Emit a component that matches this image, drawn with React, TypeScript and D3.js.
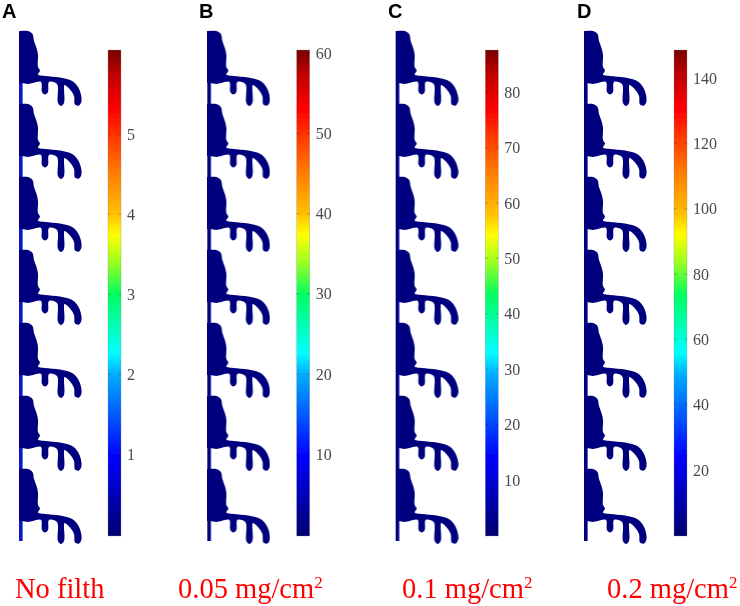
import React, { useRef, useEffect } from 'react';
import * as d3 from 'd3';

const panelLetters = ['A', 'B', 'C', 'D'];
const captions = ['No filth', '0.05 mg/cm', '0.1 mg/cm', '0.2 mg/cm'];
const captionSup = ['', '2', '2', '2'];

const ticksA = [1, 2, 3, 4, 5];
const ticksB = [10, 20, 30, 40, 50, 60];
const ticksC = [10, 20, 30, 40, 50, 60, 70, 80];
const ticksD = [20, 40, 60, 80, 100, 120, 140];
const panelTicks = [ticksA, ticksB, ticksC, ticksD];

// colorbar ends
const barMin = [-0.02, -0.2, -0.1, -0.2];
const barMax = [6.05, 60.4, 87.6, 148.6];

// jet-like colormap, from the bottom of the bar to the top
const colorOffsets = [0, 0.163, 0.24, 0.335, 0.377, 0.496, 0.565, 0.62, 0.663, 0.743, 0.83, 0.877, 0.95, 1];
const colorValues = ['#00006e', '#0000ff', '#0050ff', '#00b0ff', '#00ffff', '#00ff60', '#a0ff20', '#ffff00', '#ffc000', '#ff8000', '#ff3000', '#ff0000', '#c00000', '#780000'];

// insulator shed outline, one unit, in px from the top left of the unit
// the doubled points keep the corners on the rod sharp
const shedOutline: [number, number][] = [
  [0, 0], [0, 0], [9, 0], [13.5, 3], [15, 10], [17.5, 17], [19, 24], [19, 36], [21, 39.5], [19, 43.5],
  [26, 45], [41, 46.5], [54, 50.5], [60.5, 59], [62.5, 70], [60, 74.5], [56, 73.5], [55, 65], [51, 58.5],
  [45.5, 54], [45, 56], [45, 72], [42, 75], [39, 72], [38, 53], [30, 51], [29, 61], [26, 63.5],
  [23, 61], [22, 51], [14, 52], [9, 53], [3, 52], [0, 52], [0, 52]
];
const shedCount = d3.range(7);

const App: React.FC = () => {
  const svgRef = useRef<SVGSVGElement | null>(null);

  useEffect(() => {
    const svg = d3.select(svgRef.current);
    svg.selectAll('*').remove();
    const width = 740;
    const height = 606;
    const barTop = 50;
    const barBottom = 536;
    const barWidth = 13;
    const shedTop = 31;
    const shedPitch = 73;
    const shedBottom = 541;
    const shedColor = '#05057e';

    svg.attr('width', width).attr('height', height)
      .style('position', 'absolute').style('left', 0).style('top', 0)
      .style('background', '#fff');

    const defs = svg.append('defs');
    const grad = defs.append('linearGradient')
      .attr('id', 'jet').attr('x1', 0).attr('x2', 0).attr('y1', 1).attr('y2', 0);
    grad.selectAll('stop').data(colorOffsets).enter().append('stop')
      .attr('offset', d => d)
      .attr('stop-color', (d, i) => colorValues[i]);
    defs.append('filter').attr('id', 'soft')
      .append('feGaussianBlur').attr('stdDeviation', 0.5);

    const panelX = d3.scaleLinear().domain([0, 3]).range([19, 584]);
    const barX = d3.scaleLinear().domain([0, 3]).range([108, 674]);
    const letterX = [2, 199, 388, 577];
    const captionX = [15, 178, 402, 607];

    const outline = d3.line().curve(d3.curveCatmullRomClosed.alpha(0.5));

    panelLetters.forEach((letter, p) => {
      const g = svg.append('g');

      // insulator string
      const string = g.append('g')
        .attr('transform', `translate(${panelX(p)},0)`)
        .attr('filter', 'url(#soft)');
      string.append('rect')
        .attr('x', 0).attr('y', shedTop)
        .attr('width', 3.6).attr('height', shedBottom - shedTop)
        .attr('fill', p === 0 ? '#0a18c8' : shedColor);
      string.selectAll('path').data(shedCount).enter().append('path')
        .attr('transform', d => `translate(0,${shedTop + d * shedPitch})`)
        .attr('d', outline(shedOutline))
        .attr('fill', shedColor);

      // colorbar
      const y = d3.scaleLinear().domain([barMin[p], barMax[p]]).range([barBottom, barTop]);
      const x0 = barX(p);
      g.append('rect')
        .attr('x', x0).attr('y', barTop)
        .attr('width', barWidth).attr('height', barBottom - barTop)
        .attr('fill', 'url(#jet)')
        .attr('stroke', '#8a8a8a').attr('stroke-opacity', 0.5).attr('stroke-width', 0.6)
        .attr('filter', 'url(#soft)');

      const axis = g.append('g')
        .attr('transform', `translate(${x0 + barWidth},0)`)
        .call(d3.axisRight(y).tickValues(panelTicks[p]).tickSize(0).tickPadding(6).tickFormat(d3.format('d')));
      axis.select('.domain').remove();
      axis.selectAll('text')
        .style('font-family', '"Liberation Serif", serif')
        .style('font-size', '16px')
        .style('fill', '#4a4a4a')
        .attr('filter', 'url(#soft)');

      // small tick marks at both edges of the bar
      const marks = g.append('g').attr('stroke', '#000').attr('stroke-opacity', 0.25);
      marks.selectAll('line.l').data(panelTicks[p]).enter().append('line')
        .attr('class', 'l')
        .attr('x1', x0).attr('x2', x0 + 2.5)
        .attr('y1', d => y(d)).attr('y2', d => y(d));
      marks.selectAll('line.r').data(panelTicks[p]).enter().append('line')
        .attr('class', 'r')
        .attr('x1', x0 + barWidth - 2.5).attr('x2', x0 + barWidth)
        .attr('y1', d => y(d)).attr('y2', d => y(d));

      // panel letter
      g.append('text')
        .attr('x', letterX[p]).attr('y', 17.5)
        .style('font-family', '"Liberation Sans", Arial, sans-serif')
        .style('font-size', '20px')
        .style('font-weight', 'bold')
        .style('fill', '#000')
        .text(letter);

      // caption
      const cap = g.append('text')
        .attr('x', captionX[p]).attr('y', 598)
        .style('font-family', '"Liberation Serif", serif')
        .style('font-size', '28.5px')
        .style('fill', '#ff0000')
        .text(captions[p]);
      if (captionSup[p]) {
        cap.append('tspan')
          .attr('dy', -10)
          .style('font-size', '17px')
          .text(captionSup[p]);
      }
    });
  }, []);

  return <svg ref={svgRef}></svg>;
};

export default App;
